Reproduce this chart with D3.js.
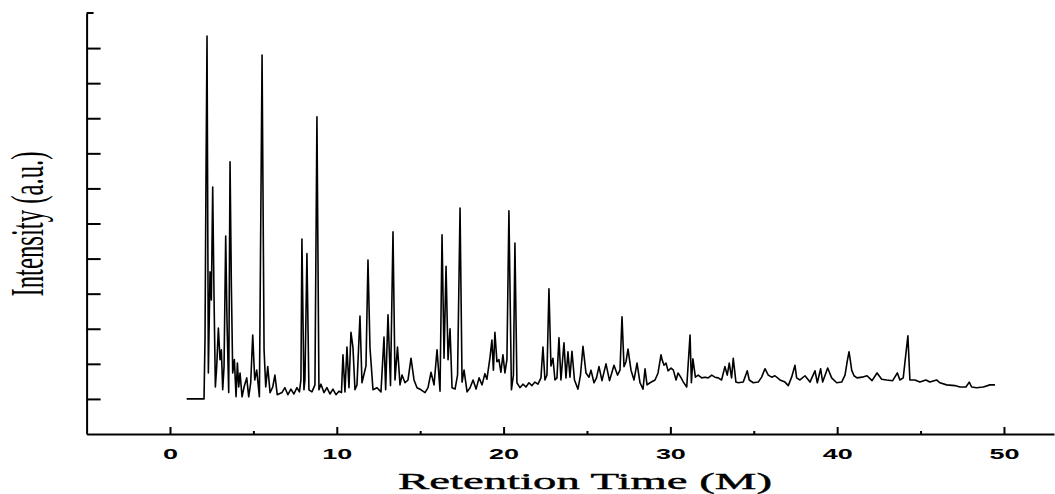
<!DOCTYPE html>
<meta charset="utf-8">
<style>
  body { margin: 0; padding: 0; background: #fff; }
  svg text { fill: #000; }
  .signal { fill: none; stroke: #000; stroke-width: 1.6; stroke-linejoin: round; }
  .axis path, .axis line { stroke: #000; stroke-width: 2; }
</style>
<body>
<script src="https://d3js.org/d3.v7.min.js"></script>
<script>

// retention time (min)
var retentionTime = [
  1.00, 2.04, 2.10, 2.16, 2.22, 2.30, 2.40, 2.48, 2.56, 2.64,
  2.72, 2.80, 2.90, 3.00, 3.08, 3.16, 3.24, 3.34, 3.42, 3.52,
  3.60, 3.68, 3.76, 3.86, 3.96, 4.04, 4.12, 4.20, 4.32, 4.44,
  4.60, 4.72, 4.84, 4.96, 5.08, 5.20, 5.36, 5.52, 5.64, 5.74,
  5.86, 6.00, 6.16, 6.29, 6.43, 6.71, 6.89, 7.07, 7.25, 7.43,
  7.61, 7.76, 7.85, 7.91, 8.03, 8.09, 8.21, 8.33, 8.51, 8.69,
  8.81, 8.93, 9.05, 9.23, 9.41, 9.59, 9.77, 9.95, 10.13, 10.28,
  10.37, 10.49, 10.61, 10.73, 10.85, 10.97, 11.09, 11.21, 11.39, 11.51,
  11.66, 11.75, 11.87, 11.99, 12.17, 12.41, 12.65, 12.83, 12.93, 13.07,
  13.22, 13.37, 13.49, 13.64, 13.79, 13.91, 14.09, 14.27, 14.45, 14.63,
  14.81, 15.05, 15.29, 15.47, 15.65, 15.83, 16.01, 16.19, 16.31, 16.43,
  16.55, 16.67, 16.79, 16.91, 17.09, 17.24, 17.39, 17.51, 17.63, 17.81,
  17.99, 18.17, 18.35, 18.53, 18.71, 18.88, 19.00, 19.18, 19.30, 19.39,
  19.48, 19.60, 19.72, 19.84, 19.96, 20.08, 20.20, 20.32, 20.47, 20.59,
  20.68, 20.80, 20.98, 21.16, 21.34, 21.52, 21.70, 21.88, 22.06, 22.24,
  22.36, 22.48, 22.60, 22.72, 22.84, 22.96, 23.08, 23.20, 23.32, 23.44,
  23.62, 23.74, 23.86, 23.98, 24.10, 24.25, 24.46, 24.61, 24.76, 24.94,
  25.12, 25.24, 25.42, 25.57, 25.72, 25.90, 26.14, 26.35, 26.62, 26.83,
  26.98, 27.10, 27.22, 27.34, 27.46, 27.64, 27.82, 28.00, 28.18, 28.36,
  28.48, 28.60, 28.78, 29.08, 29.26, 29.44, 29.50, 29.62, 29.74, 29.86,
  30.04, 30.18, 30.34, 30.46, 30.62, 30.78, 30.98, 31.18, 31.26, 31.35,
  31.50, 31.67, 31.88, 32.07, 32.27, 32.48, 32.67, 32.87, 33.07, 33.27,
  33.41, 33.53, 33.67, 33.77, 33.93, 34.07, 34.37, 34.61, 34.73, 34.97,
  35.27, 35.47, 35.67, 35.87, 36.07, 36.27, 36.57, 36.87, 37.07, 37.27,
  37.47, 37.57, 37.77, 38.07, 38.37, 38.67, 38.81, 39.01, 39.13, 39.43,
  39.67, 39.97, 40.27, 40.47, 40.62, 40.71, 40.80, 40.87, 41.01, 41.19,
  41.49, 41.79, 42.09, 42.39, 42.67, 42.97, 43.33, 43.61, 43.76, 43.96,
  44.24, 44.36, 44.66, 44.96, 45.32, 45.56, 45.96, 46.16, 46.56, 47.06,
  47.36, 47.72, 47.92, 48.06, 48.36, 48.76, 49.16, 49.46
];

// detector signal (a.u.), same order as retentionTime
var intensity = [
  0, 0, 8.7, 32.2, 51.7, 3.7, 18.1, 14.1, 30.2, 14.5,
  1.7, 4.6, 10.1, 5.6, 7.0, 1.3, 4.6, 23.2, 10.8, 0.9,
  33.8, 16.0, 3.7, 5.6, 0.3, 5.1, 1.7, 3.7, 0.3, 1.7,
  3.0, 0.3, 2.3, 9.1, 2.7, 4.1, 0.3, 49.0, 7.0, 1.7,
  4.6, 0.9, 1.7, 3.4, 0.6, 0.9, 1.6, 0.6, 1.4, 0.7,
  1.6, 1.0, 2.7, 22.8, 1.3, 2.7, 20.7, 1.3, 1.0, 2.0,
  40.2, 1.3, 2.1, 0.9, 1.6, 0.7, 1.4, 0.6, 1.1, 0.9,
  6.3, 1.0, 7.4, 1.6, 9.5, 7.3, 1.3, 2.0, 11.8, 2.3,
  3.8, 4.7, 19.8, 7.3, 1.3, 1.6, 1.0, 8.8, 1.3, 12.0,
  1.9, 23.8, 2.7, 7.4, 2.0, 3.4, 2.3, 2.7, 5.8, 2.7,
  1.6, 1.3, 0.9, 1.6, 3.8, 2.0, 7.0, 1.1, 23.4, 5.8,
  18.9, 5.6, 10.0, 1.6, 1.4, 3.4, 27.2, 2.4, 4.1, 1.0,
  1.6, 2.7, 1.4, 3.0, 2.0, 3.6, 2.8, 5.8, 8.4, 4.1,
  9.5, 5.3, 5.6, 3.8, 6.3, 3.7, 5.6, 26.8, 1.3, 3.4,
  22.2, 2.3, 1.6, 2.1, 1.7, 2.3, 1.9, 2.4, 2.1, 3.0,
  7.4, 2.7, 3.4, 15.7, 4.7, 5.8, 2.7, 3.0, 8.7, 2.7,
  8.0, 3.0, 6.7, 3.1, 6.8, 2.7, 1.4, 3.4, 7.5, 3.7,
  3.1, 4.1, 2.3, 3.0, 4.6, 2.6, 5.0, 2.6, 4.8, 3.4,
  4.1, 11.7, 4.6, 5.3, 7.1, 4.1, 2.7, 5.1, 2.3, 1.4,
  4.3, 2.0, 2.3, 2.7, 3.7, 6.3, 5.6, 4.8, 5.1, 4.0,
  4.4, 4.1, 2.7, 3.7, 3.1, 2.4, 1.7, 9.1, 2.3, 5.7,
  3.1, 3.4, 3.0, 3.1, 3.0, 3.4, 3.1, 3.0, 2.7, 4.6,
  3.4, 5.1, 3.0, 5.8, 2.4, 2.3, 2.4, 4.0, 2.7, 2.3,
  2.4, 3.1, 4.3, 3.4, 3.1, 3.3, 2.7, 2.4, 1.9, 3.1,
  4.8, 3.0, 2.7, 3.3, 2.4, 4.0, 2.3, 4.3, 2.4, 4.4,
  3.0, 2.3, 2.4, 3.4, 5.6, 6.7, 5.3, 4.1, 3.3, 3.0,
  3.1, 3.3, 2.6, 3.7, 2.8, 2.7, 2.6, 3.7, 2.7, 3.0,
  9.0, 2.7, 2.7, 2.4, 2.7, 2.4, 2.7, 2.3, 2.0, 1.9,
  1.7, 1.7, 2.4, 1.7, 1.6, 1.7, 2.0, 2.0
];

var xMajorTicks = [0, 10, 20, 30, 40, 50];
var xMinorTicks = [5, 15, 25, 35, 45];
var yTicks = [0, 5, 10, 15, 20, 25, 30, 35, 40, 45, 50];

var width = 1055,
    height = 494;

var svg = d3.select("body").append("svg")
    .attr("width", width)
    .attr("height", height);

var x = d3.scaleLinear()
    .domain([-5, 53])
    .range([86.6, 1054]);

var y = d3.scaleLinear()
    .domain([-5, 55])
    .range([434, 13]);

var points = retentionTime.map(function(t, i) { return [t, intensity[i]]; });

var line = d3.line()
    .x(function(d) { return x(d[0]); })
    .y(function(d) { return y(d[1]); });

svg.append("path")
    .attr("class", "signal")
    .attr("d", line(points));

// x axis, ticks pointing up into the plot
var xAxis = svg.append("g")
    .attr("class", "axis")
    .attr("transform", "translate(0," + y(-5) + ")")
    .call(d3.axisBottom(x).tickValues(xMajorTicks).tickSize(-7).tickSizeOuter(0).tickPadding(10));

xAxis.selectAll("text")
    .attr("y", 14)
    .attr("dy", "0.71em")
    .style("font-family", "'Liberation Sans', Arial, sans-serif")
    .style("font-size", "15px")
    .style("font-weight", "bold")
    .attr("textLength", function(d) { return String(d).length * 15; })
    .attr("lengthAdjust", "spacingAndGlyphs");

svg.append("g")
    .attr("class", "axis")
    .attr("transform", "translate(0," + y(-5) + ")")
    .call(d3.axisBottom(x).tickValues(xMinorTicks).tickSize(-3).tickSizeOuter(0).tickFormat(""))
    .select(".domain").remove();

// y axis, ticks pointing right, no labels
svg.append("g")
    .attr("class", "axis")
    .attr("transform", "translate(" + x(-5) + ",0)")
    .call(d3.axisLeft(y).tickValues(yTicks).tickSize(-14).tickSizeOuter(0).tickFormat(""));

svg.append("line")
    .attr("x1", x(-5)).attr("x2", x(-5) + 7)
    .attr("y1", y(55)).attr("y2", y(55))
    .attr("stroke", "#000").attr("stroke-width", 2);

// titles
svg.append("text")
    .attr("x", 585)
    .attr("y", 489)
    .attr("text-anchor", "middle")
    .attr("textLength", 374)
    .attr("lengthAdjust", "spacingAndGlyphs")
    .style("font-family", "'Liberation Serif', 'Times New Roman', serif")
    .style("font-size", "23px")
    .style("stroke", "#000")
    .style("stroke-width", "0.4px")
    .text("Retention Time (M)");

svg.append("text")
    .attr("transform", "translate(43,224) rotate(-90)")
    .attr("text-anchor", "middle")
    .attr("textLength", 145)
    .attr("lengthAdjust", "spacingAndGlyphs")
    .style("font-family", "'Liberation Serif', 'Times New Roman', serif")
    .style("font-size", "46px")
    .text("Intensity (a.u.)");

</script>
